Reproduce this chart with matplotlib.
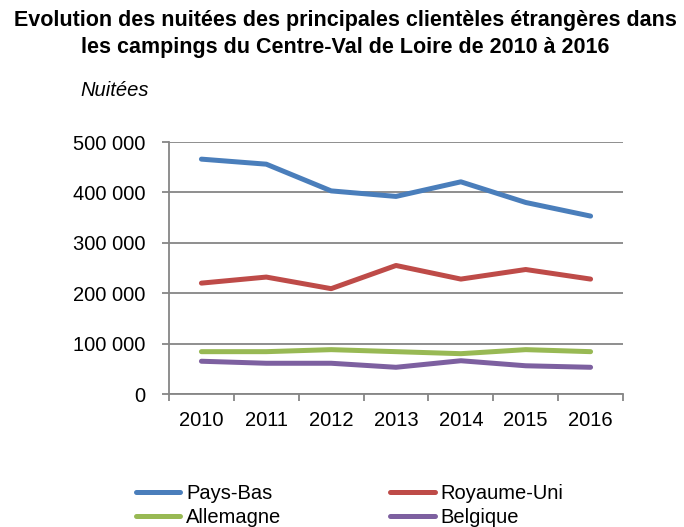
import matplotlib
matplotlib.use("Agg")
import matplotlib.pyplot as plt
import numpy as np

years = ["2010", "2011", "2012", "2013", "2014", "2015", "2016"]
pays_bas = [466000, 456000, 403000, 392000, 421000, 380000, 353000]
royaume_uni = [220000, 232000, 209000, 255000, 228000, 247000, 228000]
allemagne = [84000, 84000, 88000, 84000, 80000, 88000, 84000]
belgique = [65000, 61000, 61000, 53000, 66000, 56000, 53000]

series = [
    ("Pays-Bas", pays_bas, "#4A7EBB"),
    ("Royaume-Uni", royaume_uni, "#BE4B48"),
    ("Allemagne", allemagne, "#98B954"),
    ("Belgique", belgique, "#7D60A0"),
]

plt.rcParams["font.family"] = ["Liberation Sans", "DejaVu Sans"]

fig = plt.figure(figsize=(6.84, 5.27), dpi=100)
ax = fig.add_axes([169 / 684, 133 / 527, 454 / 684, 252 / 527])

x = np.arange(len(years)) + 0.5
lines = []
for name, vals, col in series:
    l, = ax.plot(x, vals, color=col, lw=3.6, solid_capstyle="round", label=name)
    lines.append(l)

grid_col = "#868686"
ax.set_xlim(0, len(years))
ax.set_ylim(0, 500000)
ax.set_yticks(np.arange(0, 500001, 100000))
ax.set_yticklabels(["0", "100 000", "200 000", "300 000", "400 000", "500 000"])
ax.yaxis.grid(True, color=grid_col, lw=1.3)
ax.set_axisbelow(True)

# major ticks mark category boundaries, minor ones carry the year labels
ax.set_xticks(np.arange(0, len(years) + 1))
ax.set_xticklabels([])
ax.set_xticks(x, minor=True)
ax.set_xticklabels(years, minor=True)
ax.tick_params(axis="x", which="major", length=5, width=1.3, color=grid_col, direction="out")
ax.tick_params(axis="x", which="minor", length=0, pad=12, labelsize=14.5)
ax.tick_params(axis="y", length=5, width=1.3, color=grid_col, direction="out", pad=12, labelsize=14.5)

for s in ["top", "right"]:
    ax.spines[s].set_visible(False)
for s in ["left", "bottom"]:
    ax.spines[s].set_color(grid_col)
    ax.spines[s].set_linewidth(1.3)

fig.text(0.505, 1 - 10 / 527,
         "Evolution des nuitées des principales clientèles étrangères dans\n"
         "les campings du Centre-Val de Loire de 2010 à 2016",
         ha="center", va="top", fontsize=15.5, fontweight="bold", linespacing=1.35)
fig.text(80 / 684, 1 - 90 / 527, "Nuitées", ha="left", va="center",
         fontsize=14.5, style="italic")

fig.legend(handles=[lines[0], lines[2], lines[1], lines[3]],
           labels=["Pays-Bas", "Allemagne", "Royaume-Uni", "Belgique"],
           ncol=2, loc="upper left", bbox_to_anchor=(126 / 684, 1 - 474 / 527),
           frameon=False, fontsize=14.5, handlelength=2.2, handletextpad=0.3,
           columnspacing=5.4, labelspacing=0.25, borderpad=0)

fig.savefig("out.png", dpi=100)
